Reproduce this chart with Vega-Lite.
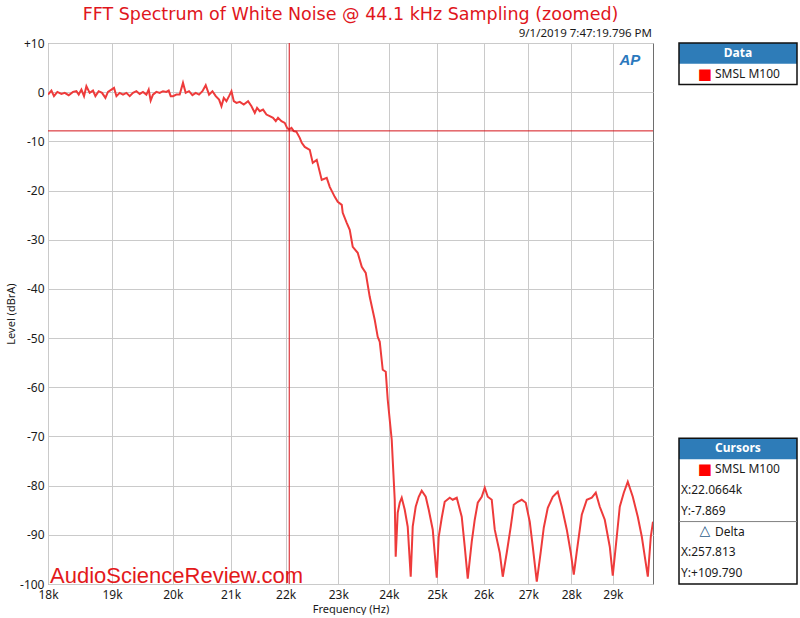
{
  "$schema": "https://vega.github.io/schema/vega-lite/v6.json",
  "background": "#ffffff",
  "padding": {"left": 5, "top": 5, "right": 0, "bottom": 0},
  "spacing": 24,
  "config": {
    "view": {"stroke": null},
    "font": "Liberation Sans"
  },
  "datasets": {
    "spectrum": [
      {"freq": 18000, "level": -0.49}, {"freq": 18052, "level": 0.33}, {"freq": 18091, "level": -0.81}, {"freq": 18143, "level": 0.06},
      {"freq": 18205, "level": -0.35}, {"freq": 18256, "level": -0.14}, {"freq": 18317, "level": -0.61}, {"freq": 18384, "level": 0.06},
      {"freq": 18437, "level": 0.2}, {"freq": 18473, "level": -0.49}, {"freq": 18515, "level": 0.53}, {"freq": 18556, "level": -0.81},
      {"freq": 18593, "level": 1.22}, {"freq": 18645, "level": -0.14}, {"freq": 18697, "level": 0.33}, {"freq": 18735, "level": -0.81},
      {"freq": 18787, "level": 0.2}, {"freq": 18840, "level": -0.14}, {"freq": 18894, "level": -1.16}, {"freq": 18935, "level": 0.06},
      {"freq": 18990, "level": 0.53}, {"freq": 19032, "level": 0.87}, {"freq": 19071, "level": -0.81}, {"freq": 19123, "level": -0.14},
      {"freq": 19177, "level": -0.49}, {"freq": 19232, "level": -0.14}, {"freq": 19286, "level": -0.81}, {"freq": 19339, "level": -0.14},
      {"freq": 19395, "level": 0.2}, {"freq": 19449, "level": -0.35}, {"freq": 19503, "level": 0.06}, {"freq": 19559, "level": -0.49},
      {"freq": 19597, "level": 0.53}, {"freq": 19630, "level": -1.71}, {"freq": 19668, "level": -0.49}, {"freq": 19725, "level": 0.06},
      {"freq": 19780, "level": -0.14}, {"freq": 19835, "level": 0.2}, {"freq": 19892, "level": 0.06}, {"freq": 19931, "level": 0.33},
      {"freq": 19965, "level": -0.81}, {"freq": 20004, "level": -0.81}, {"freq": 20061, "level": -0.49}, {"freq": 20117, "level": -0.49},
      {"freq": 20173, "level": 1.89}, {"freq": 20219, "level": -0.14}, {"freq": 20276, "level": 0.2}, {"freq": 20334, "level": -0.61},
      {"freq": 20391, "level": -0.14}, {"freq": 20448, "level": -0.49}, {"freq": 20507, "level": 0.2}, {"freq": 20564, "level": 1.42},
      {"freq": 20622, "level": -0.49}, {"freq": 20681, "level": 0.2}, {"freq": 20739, "level": -0.81}, {"freq": 20797, "level": -1.5},
      {"freq": 20839, "level": -2.85}, {"freq": 20880, "level": -1.16}, {"freq": 20927, "level": -1.83}, {"freq": 20973, "level": -0.81},
      {"freq": 21016, "level": 0.2}, {"freq": 21057, "level": -1.83}, {"freq": 21105, "level": -2.17}, {"freq": 21164, "level": -1.97},
      {"freq": 21235, "level": -2.52}, {"freq": 21313, "level": -1.83}, {"freq": 21374, "level": -2.85}, {"freq": 21434, "level": -4.21},
      {"freq": 21475, "level": -3.19}, {"freq": 21524, "level": -3.86}, {"freq": 21584, "level": -3.54}, {"freq": 21646, "level": -4.55},
      {"freq": 21706, "level": -4.88}, {"freq": 21767, "level": -5.22}, {"freq": 21817, "level": -5.89}, {"freq": 21859, "level": -5.22},
      {"freq": 21922, "level": -5.89}, {"freq": 21983, "level": -6.24}, {"freq": 22026, "level": -7.26}, {"freq": 22063, "level": -7.6},
      {"freq": 22108, "level": -7.26}, {"freq": 22151, "level": -7.93}, {"freq": 22201, "level": -8.07}, {"freq": 22263, "level": -9.29},
      {"freq": 22301, "level": -10.3}, {"freq": 22357, "level": -11.12}, {"freq": 22452, "level": -11.73}, {"freq": 22509, "level": -14.37},
      {"freq": 22585, "level": -13.76}, {"freq": 22680, "level": -17.83}, {"freq": 22776, "level": -17.42}, {"freq": 22834, "level": -19.25},
      {"freq": 22931, "level": -21.28}, {"freq": 22989, "level": -22.3}, {"freq": 23067, "level": -22.91}, {"freq": 23086, "level": -24.53},
      {"freq": 23164, "level": -26.57}, {"freq": 23223, "level": -27.99}, {"freq": 23282, "level": -31.44}, {"freq": 23380, "level": -32.66},
      {"freq": 23460, "level": -35.51}, {"freq": 23539, "level": -36.73}, {"freq": 23618, "level": -41.61}, {"freq": 23718, "level": -46.28},
      {"freq": 23778, "level": -49.74}, {"freq": 23819, "level": -50.75}, {"freq": 23879, "level": -56.44}, {"freq": 23940, "level": -56.85},
      {"freq": 23980, "level": -62.54}, {"freq": 24061, "level": -70.67}, {"freq": 24081, "level": -74.74}, {"freq": 24122, "level": -82.87},
      {"freq": 24142, "level": -94.45}, {"freq": 24183, "level": -85.51}, {"freq": 24224, "level": -83.48}, {"freq": 24265, "level": -82.46},
      {"freq": 24327, "level": -84.9}, {"freq": 24388, "level": -88.35}, {"freq": 24450, "level": -98.52}, {"freq": 24491, "level": -88.35},
      {"freq": 24553, "level": -84.29}, {"freq": 24616, "level": -82.26}, {"freq": 24678, "level": -81.04}, {"freq": 24762, "level": -82.26},
      {"freq": 24825, "level": -84.9}, {"freq": 24909, "level": -88.96}, {"freq": 24993, "level": -98.72}, {"freq": 25035, "level": -90.39},
      {"freq": 25099, "level": -86.53}, {"freq": 25162, "level": -83.28}, {"freq": 25269, "level": -82.46}, {"freq": 25333, "level": -82.87},
      {"freq": 25419, "level": -82.46}, {"freq": 25526, "level": -86.32}, {"freq": 25591, "level": -92.42}, {"freq": 25656, "level": -98.92},
      {"freq": 25743, "level": -91.4}, {"freq": 25808, "level": -86.93}, {"freq": 25874, "level": -83.48}, {"freq": 25961, "level": -82.26},
      {"freq": 26027, "level": -80.43}, {"freq": 26093, "level": -82.26}, {"freq": 26181, "level": -82.87}, {"freq": 26248, "level": -88.96},
      {"freq": 26359, "level": -93.64}, {"freq": 26426, "level": -98.52}, {"freq": 26515, "level": -93.64}, {"freq": 26605, "level": -88.35},
      {"freq": 26673, "level": -83.88}, {"freq": 26763, "level": -83.28}, {"freq": 26853, "level": -82.87}, {"freq": 26944, "level": -83.48},
      {"freq": 27035, "level": -87.34}, {"freq": 27104, "level": -92.42}, {"freq": 27196, "level": -99.53}, {"freq": 27288, "level": -93.44},
      {"freq": 27357, "level": -88.56}, {"freq": 27450, "level": -84.49}, {"freq": 27566, "level": -82.26}, {"freq": 27682, "level": -81.24},
      {"freq": 27776, "level": -84.29}, {"freq": 27894, "level": -88.96}, {"freq": 27988, "level": -93.64}, {"freq": 28059, "level": -98.11},
      {"freq": 28130, "level": -93.44}, {"freq": 28249, "level": -85.92}, {"freq": 28369, "level": -82.87}, {"freq": 28489, "level": -82.46},
      {"freq": 28585, "level": -81.44}, {"freq": 28682, "level": -84.29}, {"freq": 28803, "level": -86.93}, {"freq": 28925, "level": -92.42},
      {"freq": 28998, "level": -98.31}, {"freq": 29096, "level": -90.39}, {"freq": 29170, "level": -84.29}, {"freq": 29269, "level": -81.44},
      {"freq": 29368, "level": -79.2}, {"freq": 29492, "level": -82.26}, {"freq": 29617, "level": -86.32}, {"freq": 29718, "level": -90.39},
      {"freq": 29793, "level": -94.45}, {"freq": 29869, "level": -98.52}, {"freq": 29944, "level": -90.39}, {"freq": 30000, "level": -87.34}
    ],
    "cursor": [{"freq": 22066.4, "level": -7.869}],
    "notes": [{"date": "9/1/2019 7:47:19.796 PM", "site": "AudioScienceReview.com", "logo": "AP"}],
    "panelBoxes": [
      {"box": "Data", "top": 0, "headerBottom": 1, "bottom": 2},
      {"box": "Cursors", "top": 19, "headerBottom": 20, "bottom": 26}
    ],
    "panelRule": [{"line": 23}],
    "panelText": [
      {"line": 0, "text": "Data", "kind": "header"},
      {"line": 1, "text": "SMSL M100", "kind": "item"},
      {"line": 19, "text": "Cursors", "kind": "header"},
      {"line": 20, "text": "SMSL M100", "kind": "item"},
      {"line": 21, "text": "X:22.0664k", "kind": "value"},
      {"line": 22, "text": "Y:-7.869", "kind": "value"},
      {"line": 23, "text": "Delta", "kind": "delta"},
      {"line": 24, "text": "X:257.813", "kind": "value"},
      {"line": 25, "text": "Y:+109.790", "kind": "value"}
    ]
  },
  "hconcat": [
    {
      "width": 605,
      "height": 541,
      "view": {"stroke": "#6e6e6e", "strokeWidth": 1},
      "title": {
        "text": "FFT Spectrum of White Noise @ 44.1 kHz Sampling (zoomed)",
        "font": "DejaVu Sans",
        "fontSize": 17.5,
        "fontWeight": "normal",
        "color": "#E0161C",
        "anchor": "middle",
        "frame": "group",
        "offset": 5
      },
      "layer": [
        {
          "data": {"name": "spectrum"},
          "mark": {"type": "line", "color": "#EE3B3B", "strokeWidth": 2, "clip": true},
          "encoding": {
            "x": {
              "field": "freq",
              "type": "quantitative",
              "scale": {"type": "log", "domain": [18000, 30000], "nice": false},
              "axis": {
                "values": [18000, 19000, 20000, 21000, 22000, 23000, 24000, 25000, 26000, 27000, 28000, 29000],
                "labelExpr": "(datum.value / 1000) + 'k'",
                "title": "Frequency (Hz)",
                "grid": true,
                "gridColor": "#cacaca",
                "ticks": false,
                "domain": false,
                "labelFlush": false,
                "labelOverlap": false,
                "labelFont": "Noto Sans",
                "labelFontSize": 12,
                "labelColor": "#1a1a1a",
                "labelPadding": 5,
                "titleFont": "Noto Sans",
                "titleFontSize": 11,
                "titleFontWeight": "normal",
                "titleColor": "#1a1a1a",
                "titlePadding": 3
              }
            },
            "y": {
              "field": "level",
              "type": "quantitative",
              "scale": {"domain": [-100, 10], "nice": false},
              "axis": {
                "values": [-100, -90, -80, -70, -60, -50, -40, -30, -20, -10, 0, 10],
                "labelExpr": "datum.value > 0 ? '+' + datum.value : '' + datum.value",
                "title": "Level (dBrA)",
                "grid": true,
                "gridColor": "#cacaca",
                "ticks": false,
                "domain": false,
                "labelFlush": false,
                "labelOverlap": false,
                "labelFont": "Noto Sans",
                "labelFontSize": 12,
                "labelColor": "#1a1a1a",
                "labelPadding": 4,
                "titleFont": "Noto Sans",
                "titleFontSize": 11,
                "titleFontWeight": "normal",
                "titleColor": "#1a1a1a",
                "titlePadding": 3
              }
            }
          }
        },
        {
          "data": {"name": "cursor"},
          "mark": {"type": "rule", "color": "#D4141A", "strokeWidth": 1},
          "encoding": {"x": {"field": "freq", "type": "quantitative"}}
        },
        {
          "data": {"name": "cursor"},
          "mark": {"type": "rule", "color": "#D4141A", "strokeWidth": 1},
          "encoding": {"y": {"field": "level", "type": "quantitative"}}
        },
        {
          "data": {"name": "notes"},
          "mark": {"type": "text", "align": "right", "baseline": "alphabetic", "dy": -6, "dx": -1, "fontSize": 11.5, "font": "Noto Sans", "color": "#1a1a1a"},
          "encoding": {"text": {"field": "date"}, "x": {"datum": 30000}, "y": {"datum": 10}}
        },
        {
          "data": {"name": "notes"},
          "mark": {"type": "text", "align": "left", "baseline": "alphabetic", "dx": 2, "dy": -1, "fontSize": 22, "font": "Liberation Sans", "color": "#E3191B"},
          "encoding": {"text": {"field": "site"}, "x": {"datum": 18000}, "y": {"datum": -100}}
        },
        {
          "data": {"name": "notes"},
          "mark": {"type": "text", "align": "center", "baseline": "middle", "fontSize": 15, "fontStyle": "italic", "fontWeight": "bold", "font": "Liberation Sans", "color": "#2B78BD"},
          "encoding": {"text": {"field": "logo"}, "x": {"datum": 29420}, "y": {"datum": 6.6}}
        }
      ]
    },
    {
      "width": 118,
      "height": 541,
      "view": {"stroke": null},
      "layer": [
        {
          "data": {"name": "panelBoxes"},
          "mark": {"type": "rect", "fill": "#2E7CB8"},
          "encoding": {
            "x": {"datum": 0, "type": "quantitative", "scale": {"domain": [0, 1], "nice": false}, "axis": null},
            "x2": {"datum": 1},
            "y": {"field": "top", "type": "quantitative", "scale": {"domain": [0, 26], "nice": false, "reverse": true}, "axis": null},
            "y2": {"field": "headerBottom"}
          }
        },
        {
          "data": {"name": "panelBoxes"},
          "mark": {"type": "rect", "fill": null, "stroke": "#111111", "strokeWidth": 1.5},
          "encoding": {
            "x": {"datum": 0, "type": "quantitative"},
            "x2": {"datum": 1},
            "y": {"field": "top", "type": "quantitative"},
            "y2": {"field": "bottom"}
          }
        },
        {
          "data": {"name": "panelRule"},
          "mark": {"type": "rule", "color": "#808080", "strokeWidth": 1},
          "encoding": {
            "x": {"datum": 0, "type": "quantitative"},
            "x2": {"datum": 1},
            "y": {"field": "line", "type": "quantitative"}
          }
        },
        {
          "data": {"name": "panelText"},
          "transform": [{"filter": "datum.kind === 'header'"}],
          "mark": {"type": "text", "align": "center", "baseline": "middle", "dy": 10, "fontSize": 12, "fontWeight": "bold", "font": "Noto Sans", "color": "#ffffff"},
          "encoding": {"x": {"datum": 0.5, "type": "quantitative"}, "y": {"field": "line", "type": "quantitative"}, "text": {"field": "text"}}
        },
        {
          "data": {"name": "panelText"},
          "transform": [{"filter": "datum.kind === 'item' || datum.kind === 'delta'"}],
          "mark": {"type": "text", "align": "left", "baseline": "middle", "dy": 10, "fontSize": 12, "font": "Noto Sans", "color": "#1a1a1a"},
          "encoding": {"x": {"datum": 0.305, "type": "quantitative"}, "y": {"field": "line", "type": "quantitative"}, "text": {"field": "text"}}
        },
        {
          "data": {"name": "panelText"},
          "transform": [{"filter": "datum.kind === 'value'"}],
          "mark": {"type": "text", "align": "left", "baseline": "middle", "dy": 10, "fontSize": 12, "font": "Noto Sans", "color": "#1a1a1a"},
          "encoding": {"x": {"datum": 0.017, "type": "quantitative"}, "y": {"field": "line", "type": "quantitative"}, "text": {"field": "text"}}
        },
        {
          "data": {"name": "panelText"},
          "transform": [{"filter": "datum.kind === 'item'"}],
          "mark": {"type": "text", "align": "center", "baseline": "middle", "dy": 10, "fontSize": 15, "font": "DejaVu Sans", "color": "#FF0000", "text": "■"},
          "encoding": {"x": {"datum": 0.22, "type": "quantitative"}, "y": {"field": "line", "type": "quantitative"}}
        },
        {
          "data": {"name": "panelText"},
          "transform": [{"filter": "datum.kind === 'delta'"}],
          "mark": {"type": "text", "align": "center", "baseline": "middle", "dy": 9, "fontSize": 14, "font": "DejaVu Sans", "color": "#2B5C8A", "text": "△"},
          "encoding": {"x": {"datum": 0.22, "type": "quantitative"}, "y": {"field": "line", "type": "quantitative"}}
        }
      ]
    }
  ]
}
